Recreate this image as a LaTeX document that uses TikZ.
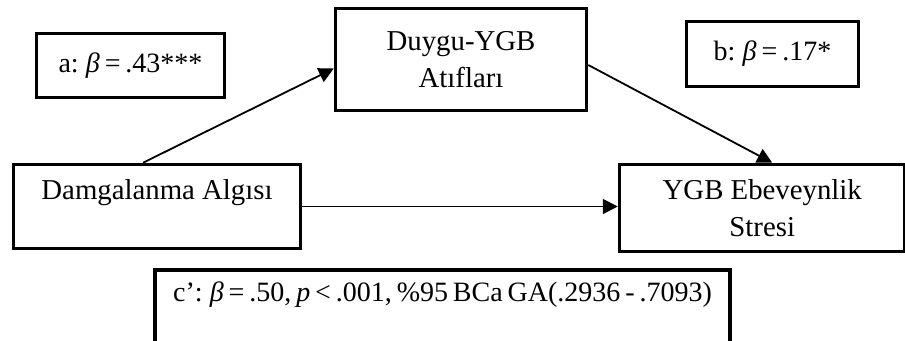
\documentclass[tikz,border=0pt]{standalone}
\usepackage{fontspec}
\setmainfont{Liberation Serif}
\newfontfamily\coeffont[WordSpace=0.7]{Liberation Serif}
\usetikzlibrary{arrows.meta, positioning, calc}

\begin{document}
\begin{tikzpicture}[
  x=0.5pt, y=-0.5pt,
  box/.style={rectangle, draw=black, line width=1.75pt, inner sep=0pt, align=center,
              font=\fontsize{14.4}{18.5}\selectfont},
  coef/.style={box, minimum width=94pt, minimum height=32pt,
               font=\coeffont\fontsize{14}{18.5}\selectfont},
  arrow/.style={-{Triangle[length=7.5pt, width=7.5pt]}, line width=0.9pt}
]
\useasboundingbox (0,0) rectangle (905,341);
\clip (0,0) rectangle (905,341);
\node[coef] (apath) at (130.5,65.5) {a: \textit{β} = .43***};
\node[coef, minimum width=86pt, minimum height=32.5pt] (bpath) at (772.5,54) {b: \textit{β} = .17*};
\node[box, minimum width=125.5pt, minimum height=51pt] (duygu) at (461,59.5) {Duygu-YGB\\Atıfları};
\node[box, minimum width=143.5pt, text height=17.75pt, text depth=24.25pt] (damga) at (157,206.5) {Damgalanma Algısı};
\node[box, minimum width=142.75pt, minimum height=43.5pt] (ygb) at (762.25,208) {YGB Ebeveynlik\\Stresi};
\node[coef, minimum width=287.5pt, minimum height=0pt, text height=16pt, text depth=39pt] (cpath) at (442.5,325)
  {c’: \textit{β} = .50, \textit{p} < .001, \%95 BCa GA(.2936 - .7093)};

\draw[arrow] ([xshift=-7pt]damga.north) -- ([yshift=-4.5pt]duygu.west);
\draw[arrow] ([yshift=-2.75pt]duygu.east) -- ([xshift=5pt]ygb.north);
\draw[arrow] (damga.east) -- (damga.east -| ygb.west);
\end{tikzpicture}
\end{document}
